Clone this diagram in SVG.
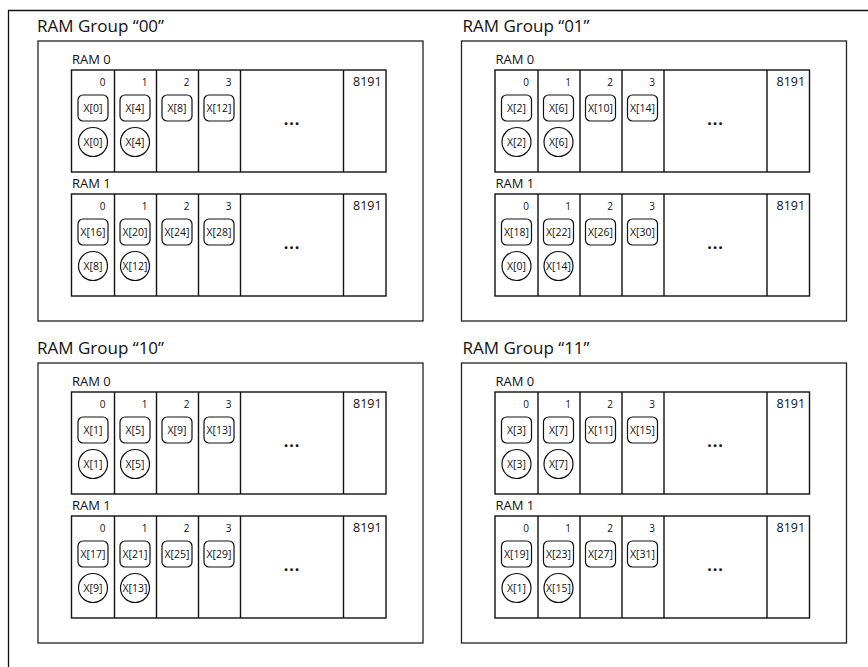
<svg xmlns="http://www.w3.org/2000/svg" width="868" height="667" viewBox="0 0 868 667">
<style>
text{font-family:"Open Sans","Noto Sans","Liberation Sans",sans-serif;fill:#111}
.frame{fill:none;stroke:#111;stroke-width:1.3}
.grp{fill:#fff;stroke:#222;stroke-width:1.3}
.ram{fill:#fff;stroke:#111;stroke-width:1.4}
.div{stroke:#111;stroke-width:1.4}
.cell{fill:#fff;stroke:#111;stroke-width:1.2}
.title{font-size:17px}
.rl{font-size:13px}
.idx{font-size:10px;text-anchor:end}
.big{font-size:12.5px}
.x{font-size:10.5px;text-anchor:middle}
.dots{font-size:16px;font-weight:bold;text-anchor:middle;letter-spacing:1px}
</style>
<rect width="868" height="667" fill="#fff"/>
<path class="frame" d="M8.5,667 V10.5 H868"/>
<g id="connectors"/>

<g id="group-00">
<text class="title" x="37" y="32">RAM Group “00”</text>
<rect class="grp" x="38" y="41" width="385" height="280"/>
<g id="g00-ram0" transform="translate(71.5,70)">
<text class="rl" x="0.5" y="-6">RAM 0</text>
<rect class="ram" x="0" y="0" width="314.5" height="102"/>
<path class="div" d="M43,0V102M85,0V102M127,0V102M169,0V102M272,0V102"/>
<text class="idx" x="34" y="16">0</text><text class="idx" x="76" y="16">1</text><text class="idx" x="118" y="16">2</text><text class="idx" x="160" y="16">3</text>
<text class="big" x="281.5" y="16">8191</text>
<rect class="cell" x="6.5" y="25" width="30" height="26" rx="5"/><rect class="cell" x="48.5" y="25" width="30" height="26" rx="5"/><rect class="cell" x="90.5" y="25" width="30" height="26" rx="5"/><rect class="cell" x="132.5" y="25" width="30" height="26" rx="5"/>
<text class="x" x="21.5" y="41.5">X[0]</text><text class="x" x="63.5" y="41.5">X[4]</text><text class="x" x="105.5" y="41.5">X[8]</text><text class="x" x="147.5" y="41.5">X[12]</text>
<circle class="cell" cx="21.5" cy="72" r="14.5"/><circle class="cell" cx="63.5" cy="72" r="14.5"/>
<text class="x" x="21.5" y="75.5">X[0]</text><text class="x" x="63.5" y="75.5">X[4]</text>
<text class="dots" x="220.5" y="55">...</text>
</g>
<g id="g00-ram1" transform="translate(71.5,194)">
<text class="rl" x="0.5" y="-6">RAM 1</text>
<rect class="ram" x="0" y="0" width="314.5" height="102"/>
<path class="div" d="M43,0V102M85,0V102M127,0V102M169,0V102M272,0V102"/>
<text class="idx" x="34" y="16">0</text><text class="idx" x="76" y="16">1</text><text class="idx" x="118" y="16">2</text><text class="idx" x="160" y="16">3</text>
<text class="big" x="281.5" y="16">8191</text>
<rect class="cell" x="6.5" y="25" width="30" height="26" rx="5"/><rect class="cell" x="48.5" y="25" width="30" height="26" rx="5"/><rect class="cell" x="90.5" y="25" width="30" height="26" rx="5"/><rect class="cell" x="132.5" y="25" width="30" height="26" rx="5"/>
<text class="x" x="21.5" y="41.5">X[16]</text><text class="x" x="63.5" y="41.5">X[20]</text><text class="x" x="105.5" y="41.5">X[24]</text><text class="x" x="147.5" y="41.5">X[28]</text>
<circle class="cell" cx="21.5" cy="72" r="14.5"/><circle class="cell" cx="63.5" cy="72" r="14.5"/>
<text class="x" x="21.5" y="75.5">X[8]</text><text class="x" x="63.5" y="75.5">X[12]</text>
<text class="dots" x="220.5" y="55">...</text>
</g>
</g>

<g id="group-01" transform="translate(423.5,0)">
<text class="title" x="39" y="32">RAM Group “01”</text>
<rect class="grp" x="38" y="41" width="385" height="280"/>
<g id="g01-ram0" transform="translate(71.5,70)">
<text class="rl" x="0.5" y="-6">RAM 0</text>
<rect class="ram" x="0" y="0" width="314.5" height="102"/>
<path class="div" d="M43,0V102M85,0V102M127,0V102M169,0V102M272,0V102"/>
<text class="idx" x="34" y="16">0</text><text class="idx" x="76" y="16">1</text><text class="idx" x="118" y="16">2</text><text class="idx" x="160" y="16">3</text>
<text class="big" x="281.5" y="16">8191</text>
<rect class="cell" x="6.5" y="25" width="30" height="26" rx="5"/><rect class="cell" x="48.5" y="25" width="30" height="26" rx="5"/><rect class="cell" x="90.5" y="25" width="30" height="26" rx="5"/><rect class="cell" x="132.5" y="25" width="30" height="26" rx="5"/>
<text class="x" x="21.5" y="41.5">X[2]</text><text class="x" x="63.5" y="41.5">X[6]</text><text class="x" x="105.5" y="41.5">X[10]</text><text class="x" x="147.5" y="41.5">X[14]</text>
<circle class="cell" cx="21.5" cy="72" r="14.5"/><circle class="cell" cx="63.5" cy="72" r="14.5"/>
<text class="x" x="21.5" y="75.5">X[2]</text><text class="x" x="63.5" y="75.5">X[6]</text>
<text class="dots" x="220.5" y="55">...</text>
</g>
<g id="g01-ram1" transform="translate(71.5,194)">
<text class="rl" x="0.5" y="-6">RAM 1</text>
<rect class="ram" x="0" y="0" width="314.5" height="102"/>
<path class="div" d="M43,0V102M85,0V102M127,0V102M169,0V102M272,0V102"/>
<text class="idx" x="34" y="16">0</text><text class="idx" x="76" y="16">1</text><text class="idx" x="118" y="16">2</text><text class="idx" x="160" y="16">3</text>
<text class="big" x="281.5" y="16">8191</text>
<rect class="cell" x="6.5" y="25" width="30" height="26" rx="5"/><rect class="cell" x="48.5" y="25" width="30" height="26" rx="5"/><rect class="cell" x="90.5" y="25" width="30" height="26" rx="5"/><rect class="cell" x="132.5" y="25" width="30" height="26" rx="5"/>
<text class="x" x="21.5" y="41.5">X[18]</text><text class="x" x="63.5" y="41.5">X[22]</text><text class="x" x="105.5" y="41.5">X[26]</text><text class="x" x="147.5" y="41.5">X[30]</text>
<circle class="cell" cx="21.5" cy="72" r="14.5"/><circle class="cell" cx="63.5" cy="72" r="14.5"/>
<text class="x" x="21.5" y="75.5">X[0]</text><text class="x" x="63.5" y="75.5">X[14]</text>
<text class="dots" x="220.5" y="55">...</text>
</g>
</g>

<g id="group-10" transform="translate(0,322)">
<text class="title" x="37" y="32">RAM Group “10”</text>
<rect class="grp" x="38" y="41" width="385" height="280"/>
<g id="g10-ram0" transform="translate(71.5,70)">
<text class="rl" x="0.5" y="-6">RAM 0</text>
<rect class="ram" x="0" y="0" width="314.5" height="102"/>
<path class="div" d="M43,0V102M85,0V102M127,0V102M169,0V102M272,0V102"/>
<text class="idx" x="34" y="16">0</text><text class="idx" x="76" y="16">1</text><text class="idx" x="118" y="16">2</text><text class="idx" x="160" y="16">3</text>
<text class="big" x="281.5" y="16">8191</text>
<rect class="cell" x="6.5" y="25" width="30" height="26" rx="5"/><rect class="cell" x="48.5" y="25" width="30" height="26" rx="5"/><rect class="cell" x="90.5" y="25" width="30" height="26" rx="5"/><rect class="cell" x="132.5" y="25" width="30" height="26" rx="5"/>
<text class="x" x="21.5" y="41.5">X[1]</text><text class="x" x="63.5" y="41.5">X[5]</text><text class="x" x="105.5" y="41.5">X[9]</text><text class="x" x="147.5" y="41.5">X[13]</text>
<circle class="cell" cx="21.5" cy="72" r="14.5"/><circle class="cell" cx="63.5" cy="72" r="14.5"/>
<text class="x" x="21.5" y="75.5">X[1]</text><text class="x" x="63.5" y="75.5">X[5]</text>
<text class="dots" x="220.5" y="55">...</text>
</g>
<g id="g10-ram1" transform="translate(71.5,194)">
<text class="rl" x="0.5" y="-6">RAM 1</text>
<rect class="ram" x="0" y="0" width="314.5" height="102"/>
<path class="div" d="M43,0V102M85,0V102M127,0V102M169,0V102M272,0V102"/>
<text class="idx" x="34" y="16">0</text><text class="idx" x="76" y="16">1</text><text class="idx" x="118" y="16">2</text><text class="idx" x="160" y="16">3</text>
<text class="big" x="281.5" y="16">8191</text>
<rect class="cell" x="6.5" y="25" width="30" height="26" rx="5"/><rect class="cell" x="48.5" y="25" width="30" height="26" rx="5"/><rect class="cell" x="90.5" y="25" width="30" height="26" rx="5"/><rect class="cell" x="132.5" y="25" width="30" height="26" rx="5"/>
<text class="x" x="21.5" y="41.5">X[17]</text><text class="x" x="63.5" y="41.5">X[21]</text><text class="x" x="105.5" y="41.5">X[25]</text><text class="x" x="147.5" y="41.5">X[29]</text>
<circle class="cell" cx="21.5" cy="72" r="14.5"/><circle class="cell" cx="63.5" cy="72" r="14.5"/>
<text class="x" x="21.5" y="75.5">X[9]</text><text class="x" x="63.5" y="75.5">X[13]</text>
<text class="dots" x="220.5" y="55">...</text>
</g>
</g>

<g id="group-11" transform="translate(423.5,322)">
<text class="title" x="39" y="32">RAM Group “11”</text>
<rect class="grp" x="38" y="41" width="385" height="280"/>
<g id="g11-ram0" transform="translate(71.5,70)">
<text class="rl" x="0.5" y="-6">RAM 0</text>
<rect class="ram" x="0" y="0" width="314.5" height="102"/>
<path class="div" d="M43,0V102M85,0V102M127,0V102M169,0V102M272,0V102"/>
<text class="idx" x="34" y="16">0</text><text class="idx" x="76" y="16">1</text><text class="idx" x="118" y="16">2</text><text class="idx" x="160" y="16">3</text>
<text class="big" x="281.5" y="16">8191</text>
<rect class="cell" x="6.5" y="25" width="30" height="26" rx="5"/><rect class="cell" x="48.5" y="25" width="30" height="26" rx="5"/><rect class="cell" x="90.5" y="25" width="30" height="26" rx="5"/><rect class="cell" x="132.5" y="25" width="30" height="26" rx="5"/>
<text class="x" x="21.5" y="41.5">X[3]</text><text class="x" x="63.5" y="41.5">X[7]</text><text class="x" x="105.5" y="41.5">X[11]</text><text class="x" x="147.5" y="41.5">X[15]</text>
<circle class="cell" cx="21.5" cy="72" r="14.5"/><circle class="cell" cx="63.5" cy="72" r="14.5"/>
<text class="x" x="21.5" y="75.5">X[3]</text><text class="x" x="63.5" y="75.5">X[7]</text>
<text class="dots" x="220.5" y="55">...</text>
</g>
<g id="g11-ram1" transform="translate(71.5,194)">
<text class="rl" x="0.5" y="-6">RAM 1</text>
<rect class="ram" x="0" y="0" width="314.5" height="102"/>
<path class="div" d="M43,0V102M85,0V102M127,0V102M169,0V102M272,0V102"/>
<text class="idx" x="34" y="16">0</text><text class="idx" x="76" y="16">1</text><text class="idx" x="118" y="16">2</text><text class="idx" x="160" y="16">3</text>
<text class="big" x="281.5" y="16">8191</text>
<rect class="cell" x="6.5" y="25" width="30" height="26" rx="5"/><rect class="cell" x="48.5" y="25" width="30" height="26" rx="5"/><rect class="cell" x="90.5" y="25" width="30" height="26" rx="5"/><rect class="cell" x="132.5" y="25" width="30" height="26" rx="5"/>
<text class="x" x="21.5" y="41.5">X[19]</text><text class="x" x="63.5" y="41.5">X[23]</text><text class="x" x="105.5" y="41.5">X[27]</text><text class="x" x="147.5" y="41.5">X[31]</text>
<circle class="cell" cx="21.5" cy="72" r="14.5"/><circle class="cell" cx="63.5" cy="72" r="14.5"/>
<text class="x" x="21.5" y="75.5">X[1]</text><text class="x" x="63.5" y="75.5">X[15]</text>
<text class="dots" x="220.5" y="55">...</text>
</g>
</g>
</svg>
